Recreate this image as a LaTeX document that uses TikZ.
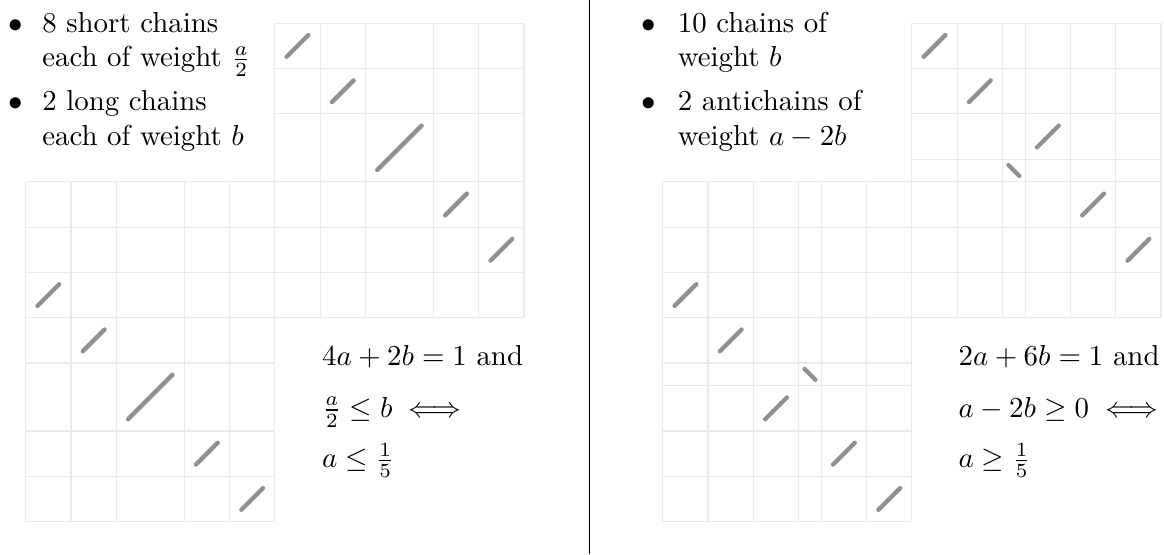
\documentclass[tikz,border=0pt]{standalone}
\usepackage{amsmath,amssymb}
\usepackage{tikz}
\definecolor{gridgray}{RGB}{234,234,234}
\definecolor{chaingray}{RGB}{145,145,145}

\begin{document}
\begin{tikzpicture}[x=0.5515cm,y=-0.5515cm]
\tikzstyle{grd}=[draw=gridgray,line width=0.4pt]
\tikzstyle{chain}=[draw=chaingray,line width=1.5pt,line cap=round]
\tikzstyle{txt}=[inner sep=0pt,anchor=base west]
\tikzstyle{bul}=[inner sep=0pt,anchor=base]
\useasboundingbox (0,0) rectangle (25.695,12.23);

% left panel: 8 short chains, 2 long chains
\begin{scope}[shift={(0.567,0.514)}]
\foreach \x in {5.5,6.5,7.5,9,10,11} \draw[grd] (\x,0) -- (\x,6.5);
\foreach \y in {0,1,2,3.5,4.5,5.5,6.5} \draw[grd] (5.5,\y) -- (11,\y);
\foreach \x in {0,1,2,3.5,4.5,5.5} \draw[grd] (\x,3.5) -- (\x,11);
\foreach \y in {3.5,4.5,5.5,6.5,7.5,9,10,11} \draw[grd] (0,\y) -- (5.5,\y);
\foreach \a/\b/\c/\d in {5.5/0/6.5/1,6.5/1/7.5/2,7.5/2/9/3.5,9/3.5/10/4.5,10/4.5/11/5.5,
  0/5.5/1/6.5,1/6.5/2/7.5,2/7.5/3.5/9,3.5/9/4.5/10,4.5/10/5.5/11}
  \draw[chain] (\a+.26,\d-.26) -- (\c-.26,\b+.26);
\end{scope}

\node[bul] (bulA) at (0.347,0.713) {$\bullet$};
\node[txt] (shortA) at (0.92,0.713) {8 short chains};
\node[txt] (shortB) at (0.92,1.478) {each of weight $\frac{a}{2}$};
\node[bul] (bulB) at (0.347,2.45) {$\bullet$};
\node[txt] (longA) at (0.92,2.45) {2 long chains};
\node[txt] (longB) at (0.92,3.215) {each of weight $b$};

\node[txt] (eqA) at (7.10,8.06) {$4a+2b=1$ and};
\node[txt] (eqB) at (7.10,9.21) {$\frac{a}{2}\leq b\iff$};
\node[txt] (eqC) at (7.10,10.33) {$a\leq\frac{1}{5}$};

% divider
\draw[line width=0.4pt] (13.02,0) -- (13.02,12.23);

% right panel: 10 chains, 2 antichains
\begin{scope}[shift={(14.63,0.514)}]
\foreach \x in {5.5,6.5,7.5,8,9,10,11} \draw[grd] (\x,0) -- (\x,6.5);
\foreach \y in {0,1,2,3,3.5,4.5,5.5,6.5} \draw[grd] (5.5,\y) -- (11,\y);
\foreach \x in {0,1,2,3,3.5,4.5,5.5} \draw[grd] (\x,3.5) -- (\x,11);
\foreach \y in {3.5,4.5,5.5,6.5,7.5,8,9,10,11} \draw[grd] (0,\y) -- (5.5,\y);
\foreach \a/\b/\c/\d in {5.5/0/6.5/1,6.5/1/7.5/2,8/2/9/3,9/3.5/10/4.5,10/4.5/11/5.5,
  0/5.5/1/6.5,1/6.5/2/7.5,2/8/3/9,3.5/9/4.5/10,4.5/10/5.5/11}
  \draw[chain] (\a+.26,\d-.26) -- (\c-.26,\b+.26);
\foreach \a/\b/\c/\d in {7.5/3/8/3.5,3/7.5/3.5/8}
  \draw[chain] (\a+.13,\b+.13) -- (\c-.13,\d-.13);
\end{scope}

\node[bul] (bulC) at (14.33,0.713) {$\bullet$};
\node[txt] (tenA) at (14.95,0.713) {10 chains of};
\node[txt] (tenB) at (14.95,1.478) {weight $b$};
\node[bul] (bulD) at (14.33,2.45) {$\bullet$};
\node[txt] (antiA) at (14.95,2.45) {2 antichains of};
\node[txt] (antiB) at (14.95,3.215) {weight $a-2b$};

\node[txt] (eqD) at (21.15,8.06) {$2a+6b=1$ and};
\node[txt] (eqE) at (21.15,9.21) {$a-2b\geq 0\iff$};
\node[txt] (eqF) at (21.15,10.33) {$a\geq\frac{1}{5}$};
\end{tikzpicture}
\end{document}
